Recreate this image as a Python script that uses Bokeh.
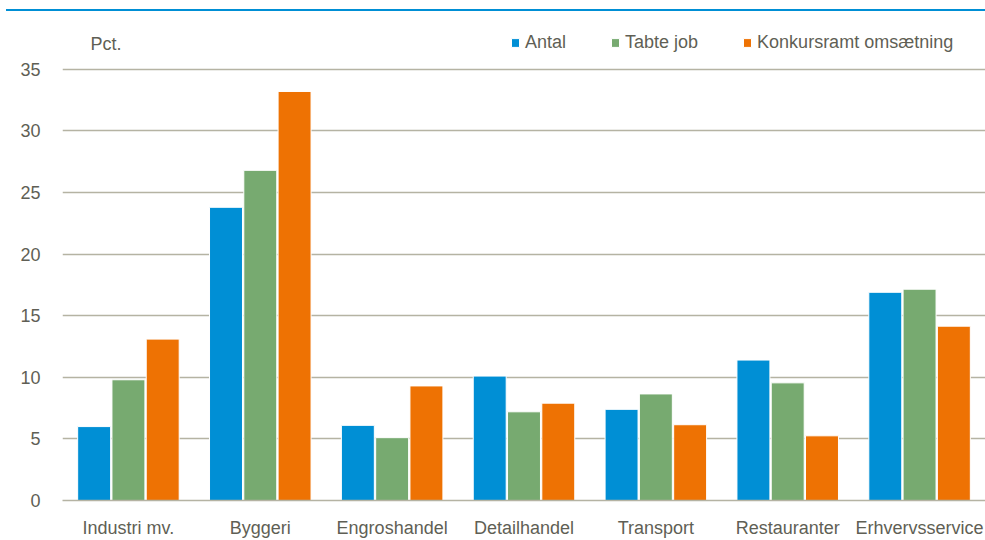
from bokeh.plotting import figure
from bokeh.models import ColumnDataSource, FactorRange, Legend, LegendItem, Label, Div
from bokeh.transform import dodge
from bokeh.layouts import column
from bokeh.embed import file_html
from bokeh.resources import INLINE

categories = ["Industri mv.", "Byggeri", "Engroshandel", "Detailhandel",
              "Transport", "Restauranter", "Erhvervsservice"]
antal = [6.0, 23.8, 6.1, 10.1, 7.4, 11.4, 16.9]
tabte_job = [9.8, 26.8, 5.1, 7.2, 8.65, 9.55, 17.15]
omsaetning = [13.1, 33.2, 9.3, 7.9, 6.15, 5.25, 14.15]
series_names = ["Antal", "Tabte job", "Konkursramt omsætning"]
y_ticks = [0, 5, 10, 15, 20, 25, 30, 35]

colors = ["#008fd5", "#77aa70", "#ee7203"]
FONT = "Liberation Sans"
TEXT = "#5f5f55"
GRID = "#b5b3a3"

src = ColumnDataSource(dict(cat=categories, a=antal, t=tabte_job, o=omsaetning))

# frame extends above 35 to hold the legend and unit label
p = figure(x_range=FactorRange(*categories, range_padding=0), y_range=(0, 38.15),
           width=985, height=529, output_backend="svg", toolbar_location=None,
           min_border_left=62, min_border_right=0, min_border_top=19, min_border_bottom=38)
p.outline_line_color = None

renderers = []
for key, off, col in zip(["a", "t", "o"], [-0.26, 0.0, 0.26], colors):
    r = p.vbar(x=dodge("cat", off, range=p.x_range), top=key, width=0.25, source=src,
               fill_color=col, line_color="white", line_width=1)
    renderers.append(r)

legend = Legend(items=[LegendItem(label=n, renderers=[r]) for n, r in zip(series_names, renderers)],
                orientation="horizontal", location=(448, 447),
                padding=0, margin=0, spacing=44, glyph_width=10, glyph_height=11,
                label_standoff=5, border_line_color=None, background_fill_alpha=0,
                label_text_font=FONT, label_text_font_size="18px", label_text_color=TEXT)
p.add_layout(legend)

p.add_layout(Label(x=28, y=457, x_units="screen", y_units="screen", text="Pct.",
                   text_font=FONT, text_font_size="18px", text_color=TEXT,
                   text_baseline="middle"))

p.xgrid.grid_line_color = None
p.ygrid.grid_line_color = GRID
p.ygrid.grid_line_width = 1.5
p.yaxis.ticker = y_ticks
p.yaxis.axis_line_color = None
p.yaxis.major_tick_line_color = None
p.yaxis.minor_tick_line_color = None
p.yaxis.major_label_standoff = 16
p.xaxis.axis_line_color = GRID
p.xaxis.axis_line_width = 1.5
p.xaxis.major_tick_line_color = None
p.xaxis.major_label_standoff = 11
for ax in (p.xaxis[0], p.yaxis[0]):
    ax.major_label_text_font = FONT
    ax.major_label_text_font_size = "18px"
    ax.major_label_text_color = TEXT

bar = Div(text="", width=980, height=2, margin=(9, 0, 0, 6),
          styles={"background-color": "#008fd5"})
layout = column(bar, p, spacing=0)

open("out.html", "w").write(file_html(layout, INLINE))
